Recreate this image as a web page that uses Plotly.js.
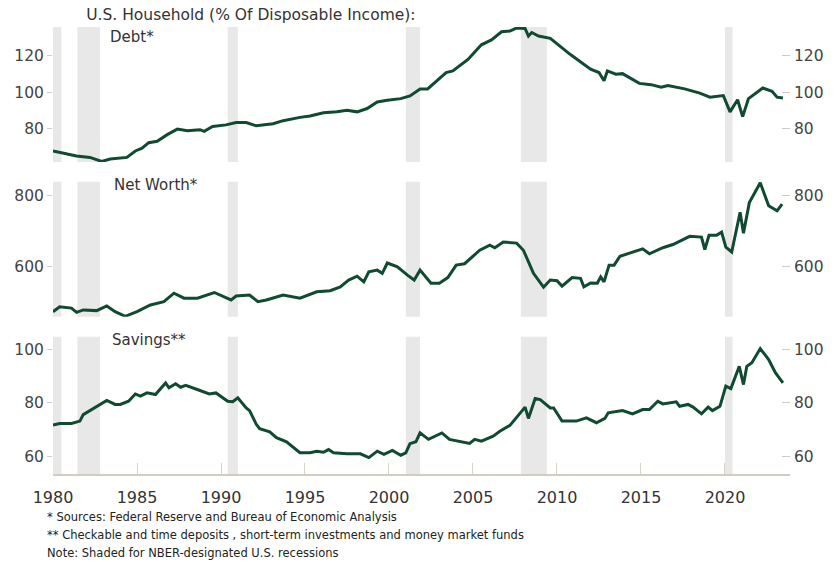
<!DOCTYPE html>
<html>
<head>
<meta charset="utf-8">
<script src="https://cdn.plot.ly/plotly-3.0.1.min.js"></script>
<style>html,body{margin:0;padding:0;background:#fff;}#chart{width:837px;height:568px;}</style>
</head>
<body>
<div id="chart"></div>
<script>
// ---- Data ----
const debtYears = [1980.0,1980.6,1981.4,1982.2,1982.9,1983.4,1984.4,1984.9,1985.3,1985.7,1986.2,1986.8,1987.4,1988.0,1988.75,1989.0,1989.5,1990.3,1990.9,1991.5,1992.1,1993.1,1993.7,1994.7,1995.3,1996.1,1996.9,1997.5,1998.1,1998.7,1999.3,1999.9,2000.7,2001.25,2001.85,2002.3,2003.4,2003.8,2004.7,2005.5,2006.1,2006.7,2007.2,2007.6,2008.1,2008.3,2008.5,2008.9,2009.6,2010.8,2012.0,2012.5,2012.8,2013.0,2013.5,2013.9,2014.9,2015.6,2016.2,2016.6,2017.6,2018.5,2019.1,2019.9,2020.3,2020.75,2021.05,2021.4,2022.25,2022.8,2023.1,2023.45];
const debtValues = [68.0,66.8,65.3,64.5,62.3,63.6,64.5,68.0,69.5,72.5,73.3,76.9,79.9,79.0,79.6,78.7,81.3,82.2,83.5,83.5,81.7,82.8,84.5,86.3,87.0,88.8,89.3,90.2,89.3,91.1,94.7,95.6,96.5,98.0,101.8,101.8,110.7,111.6,117.8,125.8,128.5,132.9,133.3,135.0,134.7,130.6,132.5,130.6,129.3,120.5,112.5,110.7,106.2,111.6,109.8,110.1,104.8,104.1,102.7,103.6,101.8,99.5,97.3,98.2,89.3,95.9,86.7,96.5,102.3,100.5,97.3,96.8];

const worthYears = [1980.0,1980.4,1981.1,1981.4,1981.8,1982.6,1983.2,1983.7,1984.3,1985.0,1985.8,1986.6,1987.2,1987.8,1988.6,1989.6,1990.6,1990.9,1991.7,1992.2,1992.7,1993.7,1994.7,1995.7,1996.5,1997.1,1997.6,1998.1,1998.5,1998.8,1999.3,1999.6,1999.9,2000.5,2001.1,2001.5,2001.85,2002.5,2003.0,2003.5,2004.0,2004.5,2005.4,2006.0,2006.3,2006.8,2007.6,2008.0,2008.6,2009.2,2009.6,2010.0,2010.3,2010.9,2011.4,2011.6,2012.0,2012.4,2012.6,2012.8,2013.1,2013.4,2013.75,2014.35,2015.1,2015.5,2016.3,2016.9,2017.3,2017.9,2018.6,2018.8,2019.05,2019.5,2019.8,2020.05,2020.4,2020.9,2021.1,2021.45,2022.1,2022.6,2023.1,2023.4];
const worthValues = [474,488,484,472,479,477,490,474,461,474,493,502,526,512,512,528,507,518,521,502,507,521,512,530,533,544,563,574,558,586,591,582,611,600,577,563,591,554,554,570,605,609,647,661,654,670,667,647,582,543,563,561,546,570,568,544,555,554,572,558,605,605,630,639,651,637,654,663,672,686,684,649,689,689,698,656,642,754,695,781,837,772,758,777];

const saveYears = [1980.0,1980.4,1981.1,1981.6,1981.8,1982.6,1983.2,1983.7,1984.0,1984.5,1984.9,1985.2,1985.6,1986.1,1986.7,1986.9,1987.3,1987.6,1987.9,1988.75,1989.3,1989.7,1990.4,1990.7,1991.0,1991.5,1991.7,1992.1,1992.3,1992.9,1993.3,1993.9,1994.3,1994.7,1995.3,1995.7,1996.1,1996.4,1996.7,1997.5,1998.3,1998.8,1999.3,1999.7,2000.2,2000.7,2001.0,2001.25,2001.6,2001.85,2002.35,2003.15,2003.6,2004.4,2004.8,2005.1,2005.5,2006.2,2006.6,2007.2,2007.7,2008.1,2008.3,2008.7,2009.0,2009.6,2009.8,2010.3,2011.15,2011.75,2012.35,2012.85,2013.05,2013.9,2014.5,2015.1,2015.5,2016.0,2016.3,2017.1,2017.3,2017.8,2018.1,2018.6,2019.0,2019.25,2019.7,2020.05,2020.35,2020.85,2021.1,2021.3,2021.6,2022.1,2022.6,2023.0,2023.45];
const saveValues = [71.7,72.3,72.3,73.2,75.6,78.7,80.9,79.4,79.4,80.6,83.3,82.5,83.7,83.1,87.4,85.6,87.1,85.8,86.5,84.6,83.3,83.7,80.6,80.4,81.9,78.1,77.1,72.0,70.4,69.2,67.0,65.5,63.3,61.4,61.4,62.0,61.6,62.6,61.4,61.0,61.0,59.6,62.0,60.8,62.3,60.5,61.4,64.8,65.5,68.8,66.4,68.8,66.4,65.5,64.9,66.4,65.7,67.6,69.4,71.6,75.6,78.4,74.2,81.6,81.2,78.1,78.1,73.2,73.2,74.4,72.6,74.2,76.3,77.1,75.9,77.5,77.5,80.6,79.6,80.4,78.7,79.4,78.4,75.9,78.4,77.1,78.7,86.2,85.3,93.6,86.8,93.6,94.9,100.2,96.1,91.2,87.4];

const recessionStarts = [1980.0, 1981.45, 1990.4, 2001.0, 2007.85, 2020.0];
const recessionEnds   = [1980.5, 1982.8, 1991.0, 2001.85, 2009.4, 2020.45];

const xTickVals = [1980,1985,1990,1995,2000,2005,2010,2015,2020];
const xTickText = ["1980","1985","1990","1995","2000","2005","2010","2015","2020"];

const panelLabels = ["Debt*", "Net Worth*", "Savings**"];
const titleText = "U.S. Household (% Of Disposable Income):";
const footnotes = [
  "* Sources: Federal Reserve and Bureau of Economic Analysis",
  "** Checkable and time deposits , short-term investments and money market funds",
  "Note: Shaded for NBER-designated U.S. recessions"
];

// ---- Styling ----
const LINE = '#0f4a31';
const FONT = 'DejaVu Sans, Arial, sans-serif';
const TICKFONT = {family: FONT, size: 15.5, color: '#444'};

function lineTrace(x, y, ya, hidden) {
  return {x: x, y: y, yaxis: ya, xaxis: 'x', type: 'scatter', mode: 'lines',
          line: {color: LINE, width: 3}, opacity: hidden ? 0 : 1,
          hoverinfo: hidden ? 'skip' : 'x+y', showlegend: false};
}

const traces = [
  lineTrace(debtYears, debtValues, 'y', false),
  lineTrace(worthYears, worthValues, 'y2', false),
  lineTrace(saveYears, saveValues, 'y3', false),
  lineTrace(debtYears, debtValues, 'y4', true),
  lineTrace(worthYears, worthValues, 'y5', true),
  lineTrace(saveYears, saveValues, 'y6', true)
];

const domains = [[0.698, 1.0], [0.352, 0.654], [0.0, 0.307]];
const ranges = [[62, 135.5], [460, 840], [53.5, 104.6]];
const dticks = [20, 200, 20];
const tick0s = [80, 600, 60];

function leftAxis(i) {
  return {domain: domains[i], range: ranges[i], anchor: 'x', showgrid: false, zeroline: false,
          showline: false, ticks: 'outside', ticklen: 5, tickcolor: '#cccccc', tickwidth: 1,
          dtick: dticks[i], tick0: tick0s[i], tickfont: TICKFONT, fixedrange: true};
}
function rightAxis(i, over) {
  return {overlaying: over, side: 'right', range: ranges[i], anchor: 'x', showgrid: false, zeroline: false,
          showline: false, ticks: 'inside', ticklen: 8, tickcolor: '#cccccc', tickwidth: 1,
          dtick: dticks[i], tick0: tick0s[i], tickfont: TICKFONT, fixedrange: true, ticklabelstandoff: 3};
}

const shapes = [];
['y', 'y2', 'y3'].forEach(function (ya) {
  for (let k = 0; k < recessionStarts.length; k++) {
    shapes.push({type: 'rect', xref: 'x', yref: ya + ' domain', x0: recessionStarts[k], x1: recessionEnds[k],
                 y0: 0, y1: 1, fillcolor: '#e8e8e8', line: {width: 0}, layer: 'below'});
  }
});

const annFont = {family: FONT, size: 15, color: '#333'};
const annotations = [
  {text: panelLabels[0], xref: 'paper', yref: 'paper', x: 0.0746, y: 0.978, xanchor: 'left', yanchor: 'middle', showarrow: false, font: annFont},
  {text: panelLabels[1], xref: 'paper', yref: 'paper', x: 0.080, y: 0.6465, xanchor: 'left', yanchor: 'middle', showarrow: false, font: annFont},
  {text: panelLabels[2], xref: 'paper', yref: 'paper', x: 0.0773, y: 0.2998, xanchor: 'left', yanchor: 'middle', showarrow: false, font: annFont}
];
const footY = [-0.0962, -0.1365, -0.1767];
footnotes.forEach(function (t, i) {
  annotations.push({text: t, xref: 'paper', yref: 'paper', x: -0.0109, y: footY[i], xanchor: 'left', yanchor: 'middle',
                    showarrow: false, font: {family: FONT, size: 11.5, color: '#222'}});
});

const layout = {
  width: 837, height: 568,
  margin: {l: 53, r: 47, t: 27, b: 94},
  paper_bgcolor: '#ffffff', plot_bgcolor: '#ffffff',
  showlegend: false,
  title: {text: titleText, xref: 'container', yref: 'container', x: 0.103, y: 0.974, xanchor: 'left', yanchor: 'middle',
          font: {family: FONT, size: 15.5, color: '#333'}},
  xaxis: {range: [1980, 2023.87], anchor: 'y3', showgrid: false, zeroline: false,
          showline: true, linecolor: '#d4ccc1', linewidth: 2,
          ticks: 'inside', ticklen: 11, tickcolor: '#d8d2c8', tickwidth: 1,
          tickvals: xTickVals, ticktext: xTickText, ticklabelstandoff: 8,
          tickfont: {family: FONT, size: 16, color: '#333'}, fixedrange: true},
  yaxis: leftAxis(0), yaxis2: leftAxis(1), yaxis3: leftAxis(2),
  yaxis4: rightAxis(0, 'y'), yaxis5: rightAxis(1, 'y2'), yaxis6: rightAxis(2, 'y3'),
  shapes: shapes,
  annotations: annotations
};

Plotly.newPlot('chart', traces, layout, {displayModeBar: false, staticPlot: true});
</script>
</body>
</html>
